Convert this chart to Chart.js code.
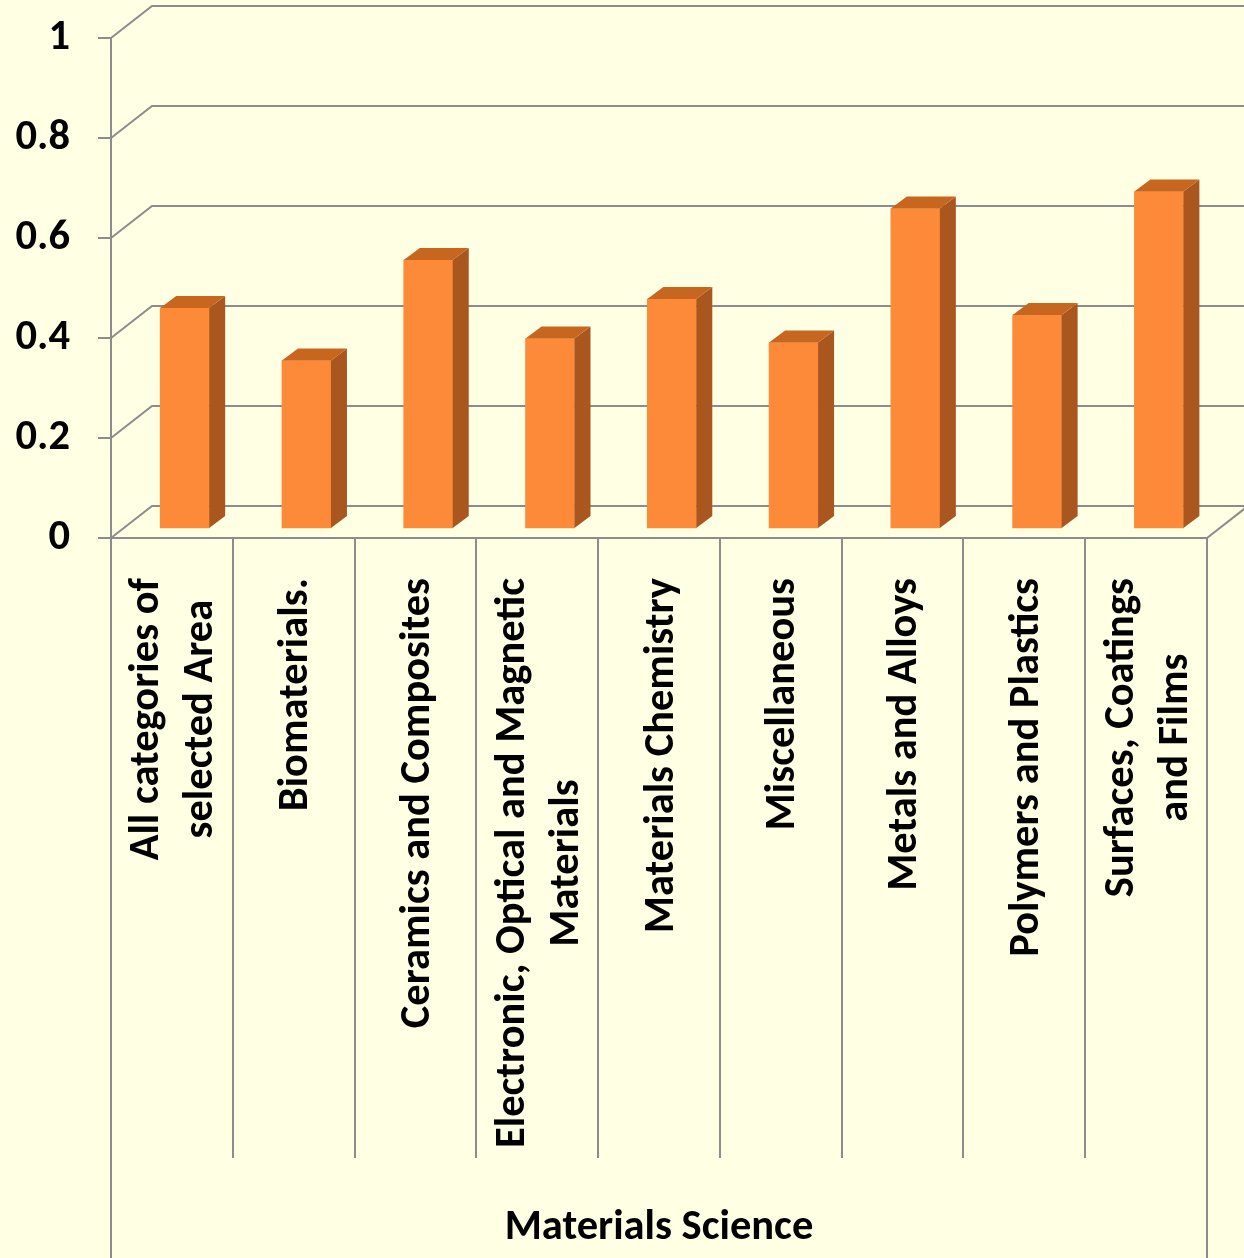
<!DOCTYPE html>
<html>
<head>
<meta charset="utf-8">
<script src="https://cdn.jsdelivr.net/npm/chart.js@4.4.1/dist/chart.umd.min.js"></script>
<style>
html,body{margin:0;padding:0;background:#FFFFE3;}
#wrap{width:1244px;height:1258px;position:relative;}
</style>
</head>
<body>
<div id="wrap"><canvas id="c"></canvas></div>
<script>
// Category names (one entry per line of the label)
const categories = [
  ['All categories of', 'selected Area'],
  ['Biomaterials.'],
  ['Ceramics and Composites'],
  ['Electronic, Optical and Magnetic', 'Materials'],
  ['Materials Chemistry'],
  ['Miscellaneous'],
  ['Metals and Alloys'],
  ['Polymers and Plastics'],
  ['Surfaces, Coatings', 'and Films']
];
// Score per category
const values = [0.44, 0.335, 0.536, 0.379, 0.458, 0.371, 0.639, 0.426, 0.673];
// Value axis ticks and their labels
const yTicks = [0, 0.2, 0.4, 0.6, 0.8, 1];
const yTickLabels = ['0', '0.2', '0.4', '0.6', '0.8', '1'];
const axisTitle = 'Materials Science';

const FONT = 'Carlito, Lato, sans-serif';
const FS = 42.5;
const GRID = '#8C8C8C';
const BG = '#FFFFE3';
const WALL = { dx: 41, dy: -32 };     // back wall offset
const DEPTH = { dx: 16, dy: -12 };    // bar depth
const BAR_FORWARD = 0.105;            // bar front plane shift, fraction of a category
const FRONT = '#FC8A38', SIDE = '#A9561F', TOP = '#C6661F';
const PITCH = 54, CAP = 27;

const background = {
  id: 'background',
  beforeDraw(chart) {
    const { ctx, width, height } = chart;
    ctx.save();
    ctx.fillStyle = BG;
    ctx.fillRect(0, 0, width, height);
    ctx.restore();
  }
};

const walls = {
  id: 'walls',
  beforeDatasetsDraw(chart) {
    const { ctx, chartArea: a, scales: { y } } = chart;
    ctx.save();
    ctx.strokeStyle = GRID;
    ctx.lineWidth = 2;
    yTicks.forEach(v => {
      const py = y.getPixelForValue(v);
      ctx.beginPath();
      ctx.moveTo(a.left, py);
      ctx.lineTo(a.left + WALL.dx, py + WALL.dy);
      ctx.lineTo(a.right + WALL.dx + 10, py + WALL.dy);
      ctx.stroke();
    });
    const p0 = y.getPixelForValue(0);
    ctx.beginPath();
    ctx.moveTo(a.right, p0);
    ctx.lineTo(a.right + WALL.dx, p0 + WALL.dy);
    ctx.stroke();
    // outer frame of the category axis
    ctx.beginPath();
    ctx.moveTo(a.left, p0); ctx.lineTo(a.left, chart.height);
    ctx.moveTo(a.right, p0); ctx.lineTo(a.right, chart.height);
    ctx.stroke();
    ctx.restore();
  }
};

const barDepth = {
  id: 'barDepth',
  afterDatasetsDraw(chart) {
    const ctx = chart.ctx;
    const poly = pts => {
      ctx.beginPath();
      pts.forEach((p, i) => i ? ctx.lineTo(p[0], p[1]) : ctx.moveTo(p[0], p[1]));
      ctx.closePath();
      ctx.fill();
    };
    ctx.save();
    chart.getDatasetMeta(0).data.forEach(bar => {
      const { x, y, base, width } = bar.getProps(['x', 'y', 'base', 'width'], true);
      const l = x - width / 2, r = x + width / 2;
      ctx.fillStyle = SIDE;
      poly([[r, y], [r + DEPTH.dx, y + DEPTH.dy], [r + DEPTH.dx, base + DEPTH.dy], [r, base]]);
      ctx.fillStyle = TOP;
      poly([[l, y], [l + DEPTH.dx, y + DEPTH.dy], [r + DEPTH.dx, y + DEPTH.dy], [r, y]]);
    });
    ctx.restore();
  }
};

const categoryLabels = {
  id: 'categoryLabels',
  afterDraw(chart) {
    const { ctx, chartArea: a, scales: { x } } = chart;
    ctx.save();
    ctx.font = `bold ${FS}px ${FONT}`;
    ctx.fillStyle = '#000';
    ctx.textAlign = 'center';
    ctx.textBaseline = 'alphabetic';
    categories.forEach((lines, i) => {
      const cx = x.getPixelForValue(i);
      const maxW = Math.max(...lines.map(t => ctx.measureText(t).width));
      const yc = a.bottom + 40 + maxW / 2;
      const bx0 = cx - ((lines.length - 1) * PITCH - CAP) / 2;
      lines.forEach((t, k) => {
        ctx.save();
        ctx.translate(bx0 + k * PITCH, yc);
        ctx.rotate(-Math.PI / 2);
        ctx.fillText(t, 0, 0);
        ctx.restore();
      });
    });
    ctx.restore();
  }
};

new Chart(document.getElementById('c'), {
  type: 'bar',
  data: {
    labels: categories,
    datasets: [{
      data: values.map((v, i) => ({ x: i, y: v })),
      xAxisID: 'xb',
      yAxisID: 'yb',
      backgroundColor: FRONT,
      borderWidth: 0,
      barThickness: 49
    }]
  },
  options: {
    responsive: true,
    maintainAspectRatio: false,
    animation: false,
    layout: { padding: { top: 38, right: 37, left: 0, bottom: 0 } },
    plugins: { legend: { display: false }, tooltip: { enabled: false } },
    scales: {
      x: {
        type: 'category',
        position: 'bottom',
        offset: true,
        grid: { offset: true, drawOnChartArea: false, tickLength: 620, color: GRID, lineWidth: 2 },
        border: { display: true, color: GRID, width: 2 },
        ticks: { display: false },
        title: {
          display: true, text: axisTitle, color: '#000',
          font: { family: FONT, size: FS, weight: 'bold' },
          padding: { top: 0, bottom: 4 }
        },
        afterFit(s) { s.height = 720; s.paddingLeft = 0; s.paddingRight = 0; }
      },
      xb: {
        type: 'linear', display: false, offset: false, bounds: 'data',
        min: -0.5 - BAR_FORWARD, max: categories.length - 0.5 - BAR_FORWARD
      },
      y: {
        type: 'linear',
        position: 'left',
        min: 0, max: 1,
        afterBuildTicks(s) { s.ticks = yTicks.map(v => ({ value: v })); },
        ticks: {
          color: '#000', font: { family: FONT, size: FS, weight: 'bold' }, padding: 28,
          callback: (v, i) => yTickLabels[i]
        },
        grid: { drawOnChartArea: false, tickLength: 13, color: GRID, lineWidth: 2 },
        border: { display: true, color: GRID, width: 2 },
        afterFit(s) { s.width = 111; s.paddingTop = 0; s.paddingBottom = 0; }
      },
      yb: { type: 'linear', display: false, min: -0.02, max: 0.98 }
    }
  },
  plugins: [background, walls, barDepth, categoryLabels]
});
</script>
</body>
</html>
